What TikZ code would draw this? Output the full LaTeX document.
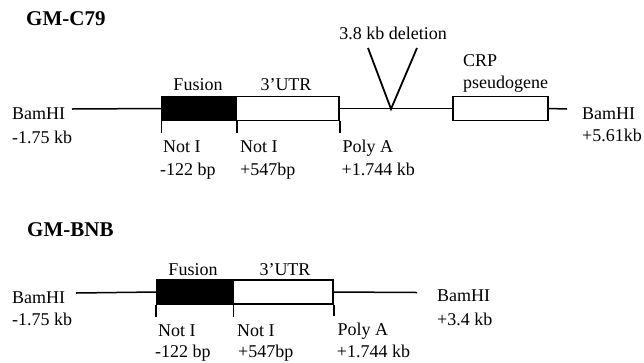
\documentclass[tikz,border=0pt]{standalone}
\usepackage{fontspec}
\setmainfont{Liberation Serif}
\usetikzlibrary{positioning}

\begin{document}
\begin{tikzpicture}[
  x=1pt, y=-1pt,
  txt/.style={font=\fontsize{18}{20}\selectfont, inner sep=0pt, anchor=base west},
  heading/.style={font=\fontsize{21}{24}\selectfont\bfseries, inner sep=0pt, anchor=base west},
  exon/.style={rectangle, draw, line width=1.5pt, minimum width=#1, minimum height=24pt, inner sep=0pt, fill=white},
  dna/.style={line width=1.5pt}
]
  \useasboundingbox (0,0) rectangle (644,362);

  \node[heading] (c79) at (26,25) {GM-C79};
  \node[exon=74pt, fill=black] (fus1) at (199,108.5) {};
  \node[exon=103pt] (utr1) at (287.5,108.5) {};
  \node[exon=95pt] (crp1) at (500.5,108.5) {};
  \coordinate (bl1) at (72,109);
  \coordinate (br1) at (567,109);
  \coordinate (del) at (391,109);
  \coordinate (dela) at (368,48);
  \coordinate (delb) at (417,48);

  \draw[dna] (bl1) -- (fus1.west);
  \draw[dna] (utr1.east) -- (crp1.west);
  \draw[dna] (crp1.east) -- (br1);
  \draw[dna, line width=1.8pt] (dela) -- (del) -- (delb);
  \draw[dna] (fus1.south west) -- ++(0,11.5);
  \draw[dna] (fus1.south east) -- ++(0,11.5);
  \draw[dna] (utr1.south east) -- ++(0,11.5);

  \node[txt, anchor=base] (fuslab1) at (198,90.7) {Fusion};
  \node[txt, anchor=base] (utrlab1) at (286,90.7) {3'UTR};
  \node[txt, anchor=base] (dellab) at (393,39) {3.8 kb deletion};
  \node[txt] (crplab) at (463,66.7) {CRP};
  \node[txt] (pseudo) at (463,88) {pseudogene};
  \node[txt] (bam1) at (12,119) {BamHI};
  \node[txt] (bam1k) at (12,143) {-1.75 kb};
  \node[txt] (bam1r) at (582,119.5) {BamHI};
  \node[txt] (bam1rk) at (582,141.7) {+5.61kb};
  \node[txt] (not1) at (163,152.7) {Not I};
  \node[txt] (not1k) at (160,175) {-122 bp};
  \node[txt] (not2) at (240,152.7) {Not I};
  \node[txt] (not2k) at (240,175) {+547bp};
  \node[txt] (poly1) at (342.5,152.7) {Poly A};
  \node[txt] (poly1k) at (341.5,175.5) {+1.744 kb};

  \node[heading] (bnb) at (27,236.7) {GM-BNB};
  \node[exon=76pt, fill=black] (fus2) at (194.7,292) {};
  \node[exon=100.3pt] (utr2) at (282.9,292) {};
  \coordinate (bl2) at (76,293);
  \coordinate (br2) at (417,292.5);

  \draw[dna] (bl2) -- (fus2.west);
  \draw[dna] (utr2.east) -- (br2);
  \draw[dna] (fus2.south west) -- ++(0,12.5);
  \draw[dna] (fus2.south east) -- ++(0,12.5);
  \draw[dna] (utr2.south east) -- ++(0,11.5);

  \node[txt, anchor=base] (fuslab2) at (193,275) {Fusion};
  \node[txt, anchor=base] (utrlab2) at (285,275) {3'UTR};
  \node[txt] (bam2) at (12,303) {BamHI};
  \node[txt] (bam2k) at (12,325) {-1.75 kb};
  \node[txt] (bam2r) at (437,301.7) {BamHI};
  \node[txt] (bam2rk) at (437,325) {+3.4 kb};
  \node[txt] (not3) at (158,336) {Not I};
  \node[txt] (not3k) at (155,357.5) {-122 bp};
  \node[txt] (not4) at (237,336) {Not I};
  \node[txt] (not4k) at (238,357.5) {+547bp};
  \node[txt] (poly2) at (337.3,335) {Poly A};
  \node[txt] (poly2k) at (336.7,357.5) {+1.744 kb};
\end{tikzpicture}
\end{document}
